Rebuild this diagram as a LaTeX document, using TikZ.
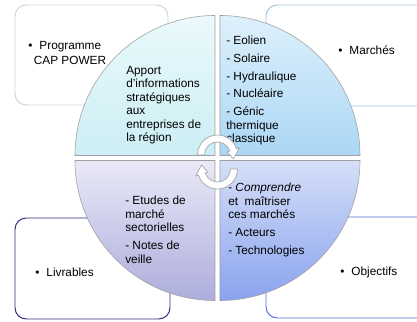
\documentclass[tikz,border=0pt]{standalone}
\usepackage{fontspec}
\setmainfont{Liberation Sans}
\usetikzlibrary{positioning}

\definecolor{tltop}{HTML}{EAF9FC}
\definecolor{tlbot}{HTML}{CCEEF4}
\definecolor{trtop}{HTML}{DDF0FB}
\definecolor{trbot}{HTML}{ABD7F5}
\definecolor{bltop}{HTML}{E9E9F7}
\definecolor{blbot}{HTML}{ADADDD}
\definecolor{brtop}{HTML}{D5DFF8}
\definecolor{brbot}{HTML}{89A3EE}
\definecolor{tledge}{HTML}{C8D8E2}
\definecolor{tredge}{HTML}{A6C4DA}
\definecolor{bledge}{HTML}{2C2C7C}
\definecolor{bredge}{HTML}{4E70D6}

\tikzset{
  cornerbox/.style={draw=#1, fill=white, line width=0.7pt, rounded corners=8pt},
  quadrant/.style={draw=gray!75, line width=0.4pt},
  quadtext/.style={anchor=north west, inner sep=0pt, align=left,
    font=\fontsize{8.4}{9.6}\selectfont},
  boxtext/.style={anchor=west, inner sep=0pt, align=left,
    font=\fontsize{8.4}{10.5}\selectfont},
  cycarrow/.style={fill=white, draw=gray!70, line width=0.5pt, line join=round}
}

\begin{document}
\begin{tikzpicture}[x=0.025cm,y=0.025cm]
\useasboundingbox (0,0) rectangle (417,322);
%
\path[cornerbox=tledge] (15,217) rectangle (168,317);
\path[cornerbox=tredge] (266,216) rectangle (430,317);
\path[cornerbox=bledge] (15,3) rectangle (170,104);
\path[cornerbox=bredge] (266,4) rectangle (430,105);
%
\node[boxtext] (prog) at (28,269) {\textbullet\hspace{5pt}Programme\\\hspace*{4pt}CAP POWER};
\node[boxtext] (march) at (338,272) {\textbullet\hspace{5pt}Marchés};
\node[boxtext] (livr) at (35,50) {\textbullet\hspace{5pt}Livrables};
\node[boxtext] (obj) at (340,50) {\textbullet\hspace{5pt}Objectifs};
%
\path[quadrant, top color=tltop, bottom color=tlbot]
  (215,166.5) -- ++(180:140) arc[start angle=180, end angle=90, radius=140] -- cycle;
\path[quadrant, top color=trtop, bottom color=trbot]
  (220,166.5) -- ++(90:140) arc[start angle=90, end angle=0, radius=140] -- cycle;
\path[quadrant, top color=bltop, bottom color=blbot]
  (215,161.5) -- ++(270:140) arc[start angle=270, end angle=180, radius=140] -- cycle;
\path[quadrant, top color=brtop, bottom color=brbot]
  (220,161.5) -- ++(0:140) arc[start angle=0, end angle=-90, radius=140] -- cycle;
%
\node[quadtext] (apport) at (126,256) {Apport\\d'informations\\stratégiques\\aux\\entreprises de\\la région};
\node[quadtext] (sources) at (226,286) {- Eolien\\[3pt]- Solaire\\[3pt]- Hydraulique\\[3pt]- Nucléaire\\[3pt]- Génic\\thermique\\classique};
\node[quadtext] (etudes) at (125,126) {- Etudes de\\marché\\sectorielles\\[3pt]- Notes de\\veille};
\node[quadtext] (compr) at (228,139) {- \textit{Comprendre}\\et\ \ maîtriser\\ces marchés\\[3pt]- Acteurs\\[3pt]- Technologies};
%
\begin{scope}[shift={(217.5,167)}]
\path[cycarrow] (180:20) arc[start angle=180, end angle=18, radius=20]
  -- (18:23) -- (-14:16.5) -- (18:10) -- (18:13)
  arc[start angle=18, end angle=180, radius=13] -- cycle;
\end{scope}
\begin{scope}[shift={(217.5,153)}]
\path[cycarrow] (0:20) arc[start angle=0, end angle=-162, radius=20]
  -- (-162:23) -- (166:16.5) -- (-162:10) -- (-162:13)
  arc[start angle=-162, end angle=0, radius=13] -- cycle;
\end{scope}
\end{tikzpicture}
\end{document}
